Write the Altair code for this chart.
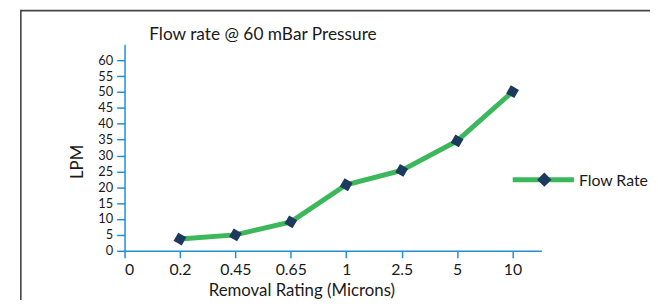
import altair as alt
import pandas as pd

categories = ["0.2", "0.45", "0.65", "1", "2.5", "5", "10"]
flow_lpm = [3.7, 5.0, 9.1, 20.8, 25.3, 34.6, 50.1]
x_tick_labels = ["0", "0.2", "0.45", "0.65", "1", "2.5", "5", "10"]
y_ticks = [0, 5, 10, 15, 20, 25, 30, 35, 40, 45, 50, 55, 60]
series_name = ["Flow Rate"]
chart_title = ["Flow rate @ 60 mBar Pressure"]

df = pd.DataFrame({
    "rating": categories,
    "pos": list(range(1, len(categories) + 1)),
    "flow": flow_lpm,
})
legend_df = pd.DataFrame({"label": series_name})
title_df = pd.DataFrame({"t": chart_title})

FONT = "Lato"
GREEN = "#3cb75c"
NAVY = "#1c3a5e"
BLUE = "#1f8fd6"
TEXT = "#1a1a1a"

label_expr = "[" + ",".join("'%s'" % t for t in x_tick_labels) + "][datum.value]"

x_enc = alt.X(
    "pos:Q",
    scale=alt.Scale(domain=[0, 7.52], nice=False, zero=True),
    axis=alt.Axis(
        values=list(range(len(x_tick_labels))),
        labelExpr=label_expr,
        title="Removal Rating (Microns)",
        titleX=179, titleY=45, titleBaseline="alphabetic", titleAlign="center",
        grid=False, tickSize=7, labelPadding=4, labelOverlap=False,
        labelFontSize=16,
    ),
)
y_enc = alt.Y(
    "flow:Q",
    scale=alt.Scale(domain=[0, 65], nice=False),
    axis=alt.Axis(
        values=y_ticks, tickCount=13,
        title="LPM",
        titleX=-43, titleY=118.5, titleBaseline="alphabetic", titleAlign="center",
        grid=False, tickSize=8, labelPadding=4, labelOverlap=False,
        labelFlush=False, labelFontSize=13,
    ),
)

base = alt.Chart(df).encode(x=x_enc, y=y_enc)
line = base.mark_line(color=GREEN, strokeWidth=5)
pts = base.mark_point(shape="square", angle=30, filled=True, size=90,
                      color=NAVY, opacity=1)

leg = alt.Chart(legend_df)
leg_line = leg.mark_rule(color=GREEN, strokeWidth=5).encode(
    x=alt.value(393), x2=alt.value(455), y=alt.value(137))
leg_pt = leg.mark_point(shape="diamond", filled=True, size=210, color=NAVY,
                        opacity=1).encode(x=alt.value(425), y=alt.value(137))
leg_txt = leg.mark_text(align="left", baseline="middle", font=FONT, fontSize=16,
                        color=TEXT).encode(x=alt.value(460), y=alt.value(138),
                                           text="label:N")

title_txt = alt.Chart(title_df).mark_text(
    align="left", baseline="alphabetic", font=FONT, fontSize=17.5, color=TEXT
).encode(x=alt.value(25), y=alt.value(-4.5), text="t:N")

frame_top = leg.mark_rule(color="#444444", strokeWidth=1.6).encode(
    x=alt.value(-105), x2=alt.value(540), y=alt.value(-34.2))
frame_left = leg.mark_rule(color="#444444", strokeWidth=1.6).encode(
    x=alt.value(-105), y=alt.value(-35), y2=alt.value(260))

chart = alt.layer(
    frame_top, frame_left, title_txt, line, pts, leg_line, leg_pt, leg_txt
).properties(
    width=422, height=209,
    autosize=alt.AutoSizeParams(type="none"),
    padding={"left": 118, "top": 35, "right": 110, "bottom": 48},
).configure_view(stroke=None).configure_axis(
    domainColor=BLUE, domainWidth=1.5, tickColor=BLUE, tickWidth=1.5,
    labelFont=FONT, labelColor=TEXT,
    titleFont=FONT, titleFontSize=17, titleFontWeight="normal", titleColor=TEXT,
)

chart.save("out.html", embed_options={"renderer": "svg", "actions": False})
